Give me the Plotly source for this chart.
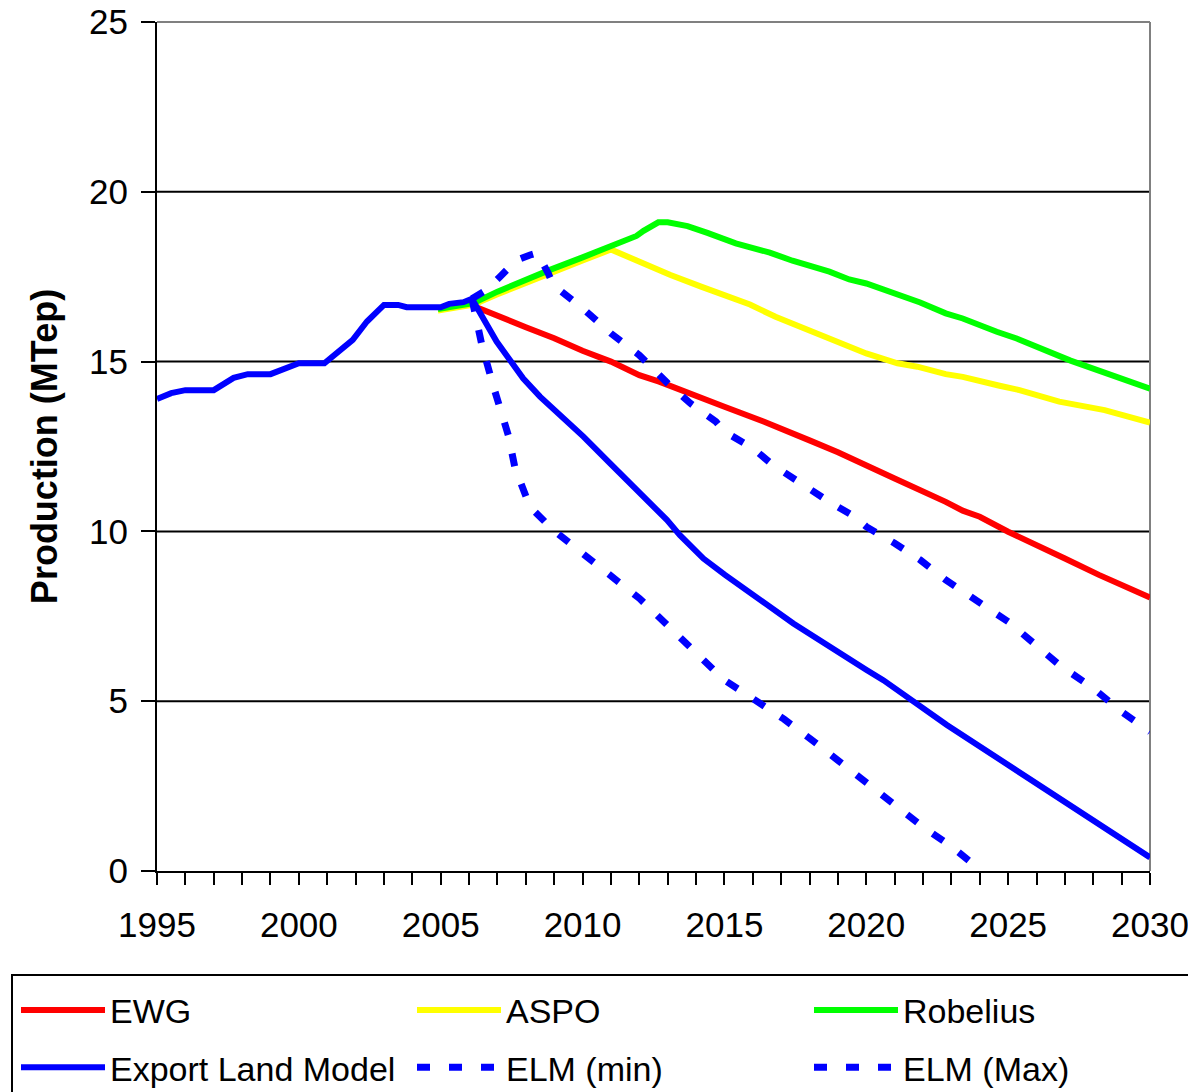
import plotly.graph_objects as go

# ---------------- data ----------------
hist_years = [1995.0, 1995.5, 1996.0, 1997.0, 1997.7, 1998.2, 1999.0, 2000.0, 2000.9,
              2001.3, 2001.9, 2002.4, 2003.0, 2003.5, 2003.8, 2005.0, 2005.3, 2005.8, 2006.1]
hist_values = [13.9, 14.07, 14.16, 14.16, 14.52, 14.63, 14.63, 14.95, 14.95,
               15.22, 15.64, 16.18, 16.67, 16.67, 16.6, 16.6, 16.7, 16.75, 16.85]

elm_years = [2006.97, 2007.91, 2008.5, 2008.97, 2010.03, 2010.97, 2012.03, 2012.38, 2012.97,
             2013.43, 2014.26, 2015.02, 2016.49, 2017.43, 2020.01, 2020.6, 2022.84, 2024.0,
             2025.89, 2030.0]
elm_values = [15.59, 14.5, 13.97, 13.62, 12.79, 12.0, 11.12, 10.87, 10.34,
              9.89, 9.2, 8.72, 7.88, 7.29, 5.92, 5.62, 4.3, 3.66, 2.63, 0.4]

ewg_years = [2006.15, 2007, 2008, 2009, 2010, 2011, 2012, 2012.7, 2014.3, 2015, 2016.4,
             2017.3, 2018, 2019, 2019.9, 2021, 2022.8, 2023.4, 2024, 2025, 2027, 2028.2, 2030]
ewg_values = [16.64, 16.34, 16.01, 15.69, 15.32, 15.0, 14.6, 14.41, 13.87, 13.67, 13.23,
              12.94, 12.68, 12.33, 12.0, 11.56, 10.87, 10.61, 10.43, 9.99, 9.2, 8.72, 8.05]

aspo_years = [2004.9, 2006.15, 2007, 2008, 2009, 2010, 2011, 2011.7, 2012.4, 2013.1, 2014.2,
              2015, 2015.9, 2016.8, 2017.5, 2018.8, 2020, 2021.1, 2021.8, 2022.8, 2023.4,
              2024.7, 2025.4, 2026.8, 2028.4, 2030]
aspo_values = [16.5, 16.68, 16.98, 17.33, 17.65, 17.98, 18.3, 18.05, 17.79, 17.55, 17.2,
               16.96, 16.68, 16.32, 16.08, 15.64, 15.24, 14.95, 14.85, 14.63, 14.55,
               14.29, 14.16, 13.82, 13.57, 13.2]

rob_years = [2004.9, 2006.15, 2007, 2008, 2008.85, 2010, 2011, 2011.9, 2012.15, 2012.67, 2013,
             2013.7, 2014.4, 2015, 2015.4, 2016.6, 2017.4, 2018.7, 2019.4, 2020, 2021.9,
             2022.8, 2023.4, 2024.6, 2025.3, 2027.2, 2030]
rob_values = [16.55, 16.72, 17.06, 17.42, 17.7, 18.07, 18.38, 18.7, 18.85, 19.1, 19.1,
              18.99, 18.79, 18.6, 18.48, 18.21, 17.97, 17.65, 17.42, 17.3, 16.74,
              16.42, 16.27, 15.88, 15.68, 15.03, 14.2]

elm_min_years = [2006.1, 2006.45, 2006.86, 2007.03, 2007.38, 2007.62, 2007.97, 2008.15, 2008.74,
                 2008.97, 2010, 2011, 2012, 2013, 2014, 2014.6, 2015, 2015.9, 2017.1, 2018,
                 2018.9, 2019.9, 2021, 2022, 2023, 2024]
elm_min_values = [16.85, 15.49, 14.26, 13.82, 12.84, 11.86, 11.02, 10.72, 10.23,
                  10.04, 9.35, 8.67, 8.03, 7.23, 6.44, 5.96, 5.62, 5.13, 4.47, 3.91,
                  3.32, 2.63, 1.89, 1.3, 0.72, 0.05]

elm_max_years = [2006.1, 2006.6, 2007.09, 2007.68, 2008.15, 2008.4, 2008.79, 2008.97, 2010, 2011,
                 2012, 2012.6, 2013, 2013.8, 2014.7, 2015, 2016, 2016.7, 2017.7, 2018.7,
                 2019.6, 2020, 2021, 2021.9, 2022.8, 2023.9, 2025, 2025.9, 2026.8, 2028,
                 2029, 2030]
elm_max_values = [16.85, 17.1, 17.5, 17.99, 18.14, 18.2, 17.6, 17.25, 16.57, 15.83,
                  15.19, 14.65, 14.36, 13.77, 13.23, 12.94, 12.45, 11.96, 11.41, 10.87,
                  10.43, 10.14, 9.65, 9.16, 8.57, 7.93, 7.34, 6.71, 6.07, 5.38,
                  4.69, 4.1]

x_ticks = list(range(1995, 2031))
x_labels = [str(y) if y % 5 == 0 else "" for y in x_ticks]
y_ticks = [0, 5, 10, 15, 20, 25]
grid_levels = [5, 10, 15, 20]

# ---------------- figure ----------------
FONT = "Liberation Sans, Arial, sans-serif"
LW = 6
DLW = 7
DASH = "13px,19px"

# the page body adds an 8px margin; lay the figure out in window pixels minus that
OFF = 8
W, H = 1196 - OFF, 1092 - OFF
L, R, T, B = 157 - OFF, 1150 - OFF, 22 - OFF, 871 - OFF
PW, PH = R - L, B - T


def px(xwin):
    return (xwin - OFF - L) / PW


def py(ywin):
    return (B - (ywin - OFF)) / PH


fig = go.Figure()
fig.add_trace(go.Scatter(x=ewg_years, y=ewg_values, mode="lines", name="EWG",
                         line=dict(color="#FF0000", width=LW), legend="legend",
                         legendgroup="g1"))
fig.add_trace(go.Scatter(x=aspo_years, y=aspo_values, mode="lines", name="ASPO",
                         line=dict(color="#FFFF00", width=LW), legend="legend2",
                         legendgroup="g2"))
fig.add_trace(go.Scatter(x=rob_years, y=rob_values, mode="lines", name="Robelius",
                         line=dict(color="#00FF00", width=LW), legend="legend3",
                         legendgroup="g3"))
fig.add_trace(go.Scatter(x=hist_years + elm_years, y=hist_values + elm_values, mode="lines",
                         name="Export Land Model",
                         line=dict(color="#0000FF", width=LW), legend="legend",
                         legendgroup="g4"))
fig.add_trace(go.Scatter(x=elm_min_years, y=elm_min_values, mode="lines", name="ELM (min)",
                         line=dict(color="#0000FF", width=DLW, dash=DASH), legend="legend2",
                         legendgroup="g5"))
fig.add_trace(go.Scatter(x=elm_max_years, y=elm_max_values, mode="lines", name="ELM (Max)",
                         line=dict(color="#0000FF", width=DLW, dash=DASH), legend="legend3",
                         legendgroup="g6"))

shapes = []
for g in grid_levels:
    shapes.append(dict(type="line", xref="paper", yref="y", x0=0, x1=1, y0=g, y1=g,
                       line=dict(color="black", width=2), layer="below"))
# gray top/right frame
shapes.append(dict(type="line", xref="paper", yref="paper", x0=0, x1=1, y0=1, y1=1,
                   line=dict(color="#808080", width=2), layer="below"))
shapes.append(dict(type="line", xref="paper", yref="paper", x0=1, x1=1, y0=0, y1=1,
                   line=dict(color="#808080", width=2), layer="below"))
# legend frame (extends past the picture edge)
shapes.append(dict(type="rect", xref="paper", yref="paper",
                   x0=px(12), x1=px(1215), y0=py(1115), y1=py(975),
                   line=dict(color="black", width=2), fillcolor="rgba(0,0,0,0)"))

legend_common = dict(orientation="v", font=dict(family=FONT, size=34, color="black"),
                     bgcolor="rgba(0,0,0,0)", borderwidth=0, itemwidth=84,
                     tracegroupgap=10, xanchor="left", yanchor="middle",
                     traceorder="grouped", itemclick=False, itemdoubleclick=False,
                     y=py(1039))

fig.update_layout(
    width=W, height=H,
    margin=dict(l=L, r=W - R, t=T, b=H - B, autoexpand=False),
    paper_bgcolor="white", plot_bgcolor="white",
    font=dict(family=FONT, size=34, color="black"),
    showlegend=True,
    legend=dict(**legend_common, x=px(16)),
    legend2=dict(**legend_common, x=px(412)),
    legend3=dict(**legend_common, x=px(809)),
    xaxis=dict(range=[1995, 2030], tickmode="array", tickvals=x_ticks, ticktext=x_labels,
               ticks="outside", ticklen=12, tickwidth=2, tickcolor="black",
               showline=True, linecolor="black", linewidth=2, showgrid=False,
               zeroline=False, tickfont=dict(family=FONT, size=35, color="black"),
               ticklabelstandoff=10, ticklabeloverflow="allow"),
    yaxis=dict(range=[0, 25], tickmode="array", tickvals=y_ticks,
               ticks="outside", ticklen=14, tickwidth=2, tickcolor="black",
               showline=True, linecolor="black", linewidth=2, showgrid=False,
               zeroline=False, tickfont=dict(family=FONT, size=35, color="black"),
               ticklabelstandoff=6, ticklabeloverflow="allow",
               title=dict(text="<b>Production (MTep)</b>", standoff=20,
                          font=dict(family=FONT, size=36, color="black"))),
    shapes=shapes,
)

fig.write_html("out.html")
